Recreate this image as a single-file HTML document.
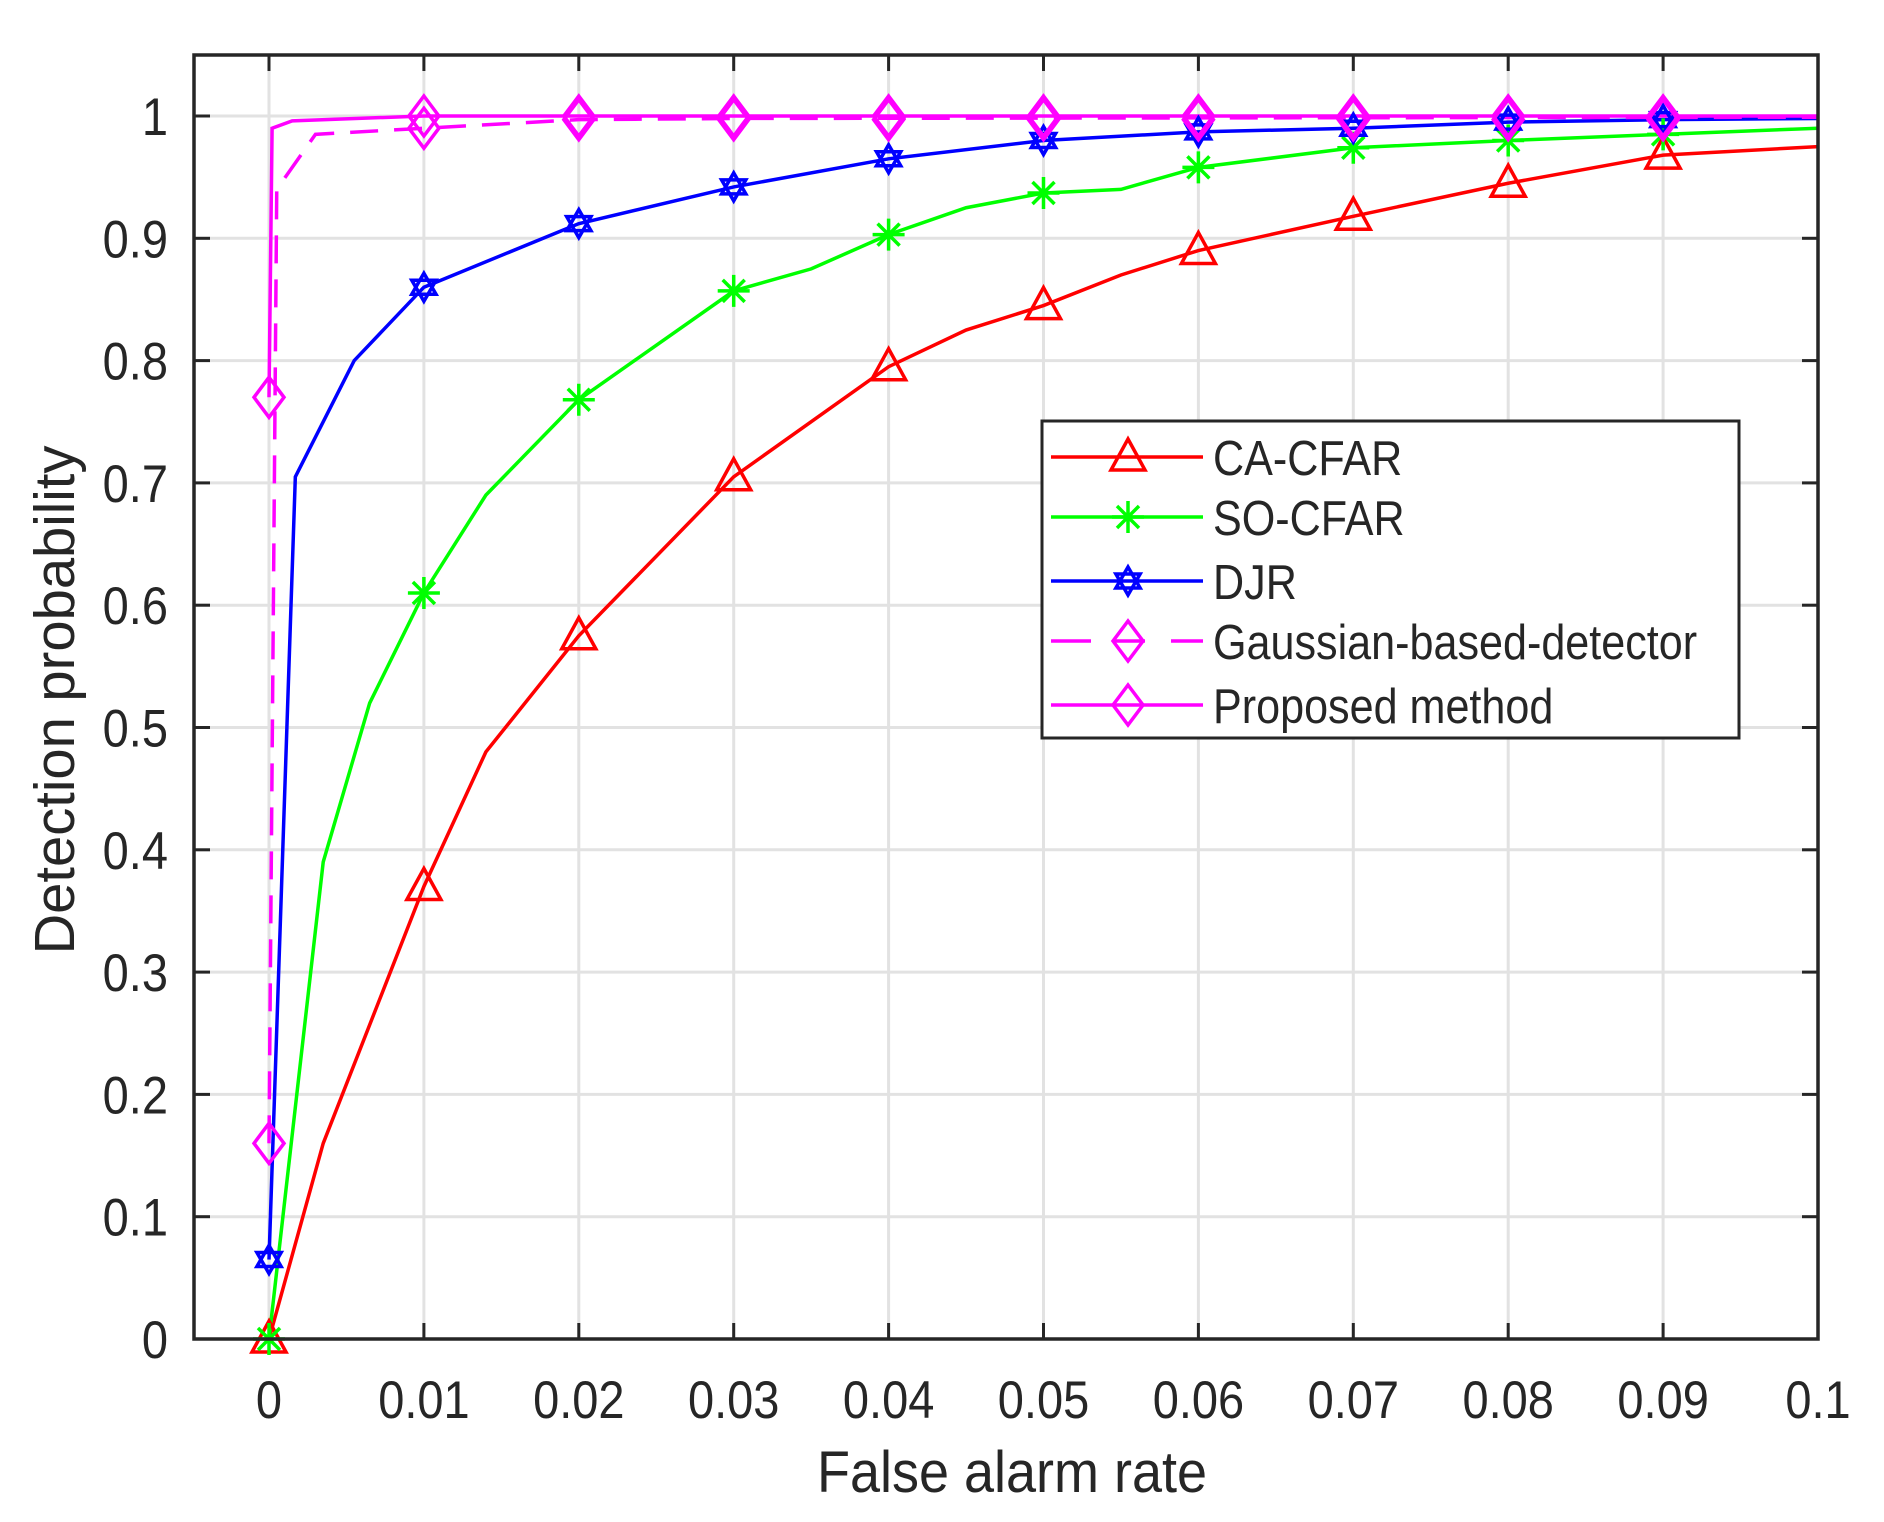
<!DOCTYPE html>
<html><head><meta charset="utf-8"><style>
html,body{margin:0;padding:0;background:#fff;}
svg{display:block;}
text{font-family:"Liberation Sans",sans-serif;fill:#262626;}
</style></head><body>
<svg id="s" width="1884" height="1522" viewBox="0 0 1884 1522" xmlns="http://www.w3.org/2000/svg"></svg>
<script>
var s=document.getElementById('s');
var X=function(v){return 269+15490*v;}, Y=function(v){return 1339-1223*v;};
var L=194,R=1818,T=55,B=1339;
var h='';
for(var i=0;i<=10;i++){var x=X(i/100);h+='<line x1="'+x+'" y1="'+T+'" x2="'+x+'" y2="'+B+'" stroke="#e2e2e2" stroke-width="3"/>';}
for(var i=0;i<=10;i++){var y=Y(i/10);h+='<line x1="'+L+'" y1="'+y+'" x2="'+R+'" y2="'+y+'" stroke="#e2e2e2" stroke-width="3"/>';}
function st(x,y,sz,anchor,txt,fill){return '<text transform="translate('+x+','+y+') scale(1,1.12)" font-size="'+sz+'" text-anchor="'+anchor+'"'+(fill?' fill="'+fill+'"':'')+'>'+txt+'</text>';}
for(var i=0;i<=10;i++){var x=X(i/100);h+='<line x1="'+x+'" y1="'+B+'" x2="'+x+'" y2="'+(B-16)+'" stroke="#262626" stroke-width="3"/><line x1="'+x+'" y1="'+T+'" x2="'+x+'" y2="'+(T+16)+'" stroke="#262626" stroke-width="3"/>';
 var lab=i==0?'0':(i==10?'0.1':'0.0'+i);h+=st(x,1418,47,'middle',lab);}
for(var i=0;i<=10;i++){var y=Y(i/10);h+='<line x1="'+L+'" y1="'+y+'" x2="'+(L+16)+'" y2="'+y+'" stroke="#262626" stroke-width="3"/><line x1="'+R+'" y1="'+y+'" x2="'+(R-16)+'" y2="'+y+'" stroke="#262626" stroke-width="3"/>';
 var lab=i==0?'0':(i==10?'1':'0.'+i);h+=st(168,y+19,47,'end',lab);}
function pl(pts,col,dash){var d=pts.map(function(p){return X(p[0])+','+Y(p[1]);}).join(' ');return '<polyline points="'+d+'" fill="none" stroke="'+col+'" stroke-width="3.5"'+(dash?' stroke-dasharray="28,16"':'')+'/>';}
function tri(x,y,c){return '<polygon points="'+x+','+(y-18)+' '+(x+17)+','+(y+13)+' '+(x-17)+','+(y+13)+'" fill="none" stroke="'+c+'" stroke-width="3.5"/>';}
function dia(x,y,c){return '<polygon points="'+x+','+(y-20)+' '+(x+15)+','+y+' '+x+','+(y+20)+' '+(x-15)+','+y+'" fill="none" stroke="'+c+'" stroke-width="3.5"/>';}
function star(x,y,c){var r=16;return '<path d="M'+(x-r)+','+y+'H'+(x+r)+'M'+x+','+(y-r)+'V'+(y+r)+'M'+(x-11)+','+(y-11)+'L'+(x+11)+','+(y+11)+'M'+(x-11)+','+(y+11)+'L'+(x+11)+','+(y-11)+'" stroke="'+c+'" stroke-width="3.5"/>';}
function hexg(x,y,c){var r=14,a='',b='';for(var k=0;k<3;k++){var t=-Math.PI/2+k*2*Math.PI/3;a+=(x+r*Math.cos(t))+','+(y+r*Math.sin(t))+' ';var t2=Math.PI/2+k*2*Math.PI/3;b+=(x+r*Math.cos(t2))+','+(y+r*Math.sin(t2))+' ';}
 return '<polygon points="'+a+'" fill="none" stroke="'+c+'" stroke-width="3.5"/><polygon points="'+b+'" fill="none" stroke="'+c+'" stroke-width="3.5"/>';}
var RED='#ff0000',GRN='#00ff00',BLU='#0000ff',MAG='#ff00ff';
var ca=[[0,0],[0.0035,0.16],[0.01,0.37],[0.014,0.48],[0.02,0.575],[0.03,0.705],[0.04,0.795],[0.045,0.825],[0.05,0.845],[0.055,0.87],[0.06,0.89],[0.07,0.918],[0.08,0.945],[0.09,0.968],[0.1,0.975]];
var so=[[0,0],[0.0035,0.39],[0.0065,0.52],[0.01,0.61],[0.014,0.69],[0.02,0.768],[0.03,0.857],[0.035,0.875],[0.04,0.903],[0.045,0.925],[0.05,0.937],[0.055,0.94],[0.06,0.958],[0.07,0.974],[0.08,0.98],[0.09,0.985],[0.1,0.99]];
var dj=[[0,0.065],[0.0017,0.705],[0.0055,0.80],[0.01,0.86],[0.02,0.912],[0.03,0.942],[0.04,0.965],[0.05,0.98],[0.06,0.987],[0.07,0.99],[0.08,0.995],[0.09,0.997],[0.1,0.998]];
var ga=[[0,0.16],[0.0005,0.94],[0.003,0.985],[0.01,0.99],[0.02,0.997],[0.03,0.998],[0.1,0.999]];
var pr=[[0,0.77],[0.0002,0.99],[0.0015,0.996],[0.01,1],[0.1,1]];
h+=pl(ca,RED)+pl(so,GRN)+pl(dj,BLU)+pl(ga,MAG,1)+pl(pr,MAG);
for(var i=0;i<=9;i++){var xv=i/100;
 var c=ca.filter(function(p){return Math.abs(p[0]-xv)<1e-9;})[0];if(c)h+=tri(X(xv),Y(c[1]),RED);
 var g=so.filter(function(p){return Math.abs(p[0]-xv)<1e-9;})[0];if(g)h+=star(X(xv),Y(g[1]),GRN);
 var b=dj.filter(function(p){return Math.abs(p[0]-xv)<1e-9;})[0];if(b)h+=hexg(X(xv),Y(b[1]),BLU);
 h+=dia(X(xv),Y(i==0?0.16:(i==1?0.99:0.997)),MAG);
 h+=dia(X(xv),Y(i==0?0.77:1),MAG);}
h+='<rect x="'+L+'" y="'+T+'" width="'+(R-L)+'" height="'+(B-T)+'" fill="none" stroke="#262626" stroke-width="3.5"/>';
h+='<rect x="1042" y="421" width="697" height="317" fill="#fff" stroke="#262626" stroke-width="3"/>';
var ents=[['CA-CFAR',RED,tri,0],['SO-CFAR',GRN,star,0],['DJR',BLU,hexg,0],['Gaussian-based-detector',MAG,dia,1],['Proposed method',MAG,dia,0]];
var ys=[457,517,581,641,705];
ents.forEach(function(e,k){var y=ys[k];
 if(e[3]){h+='<line x1="1051" y1="'+y+'" x2="1091" y2="'+y+'" stroke="'+e[1]+'" stroke-width="3.5"/><line x1="1171" y1="'+y+'" x2="1203" y2="'+y+'" stroke="'+e[1]+'" stroke-width="3.5"/><line x1="1113" y1="'+y+'" x2="1145" y2="'+y+'" stroke="'+e[1]+'" stroke-width="3.5"/>';}
 else h+='<line x1="1051" y1="'+y+'" x2="1203" y2="'+y+'" stroke="'+e[1]+'" stroke-width="3.5"/>';
 h+=e[2](1128,y,e[1]);
 h+='<text transform="translate(1213,'+(y+18)+') scale(0.98,1.12)" font-size="44" fill="#000">'+e[0]+'</text>';});
h+='<text transform="translate(1012,1492) scale(1,1.08)" font-size="54" text-anchor="middle">False alarm rate</text>';
h+='<text transform="translate(74,700) rotate(-90) scale(1.08,1.08)" font-size="52" text-anchor="middle">Detection probability</text>';
s.innerHTML=h;
</script>
</body></html>
